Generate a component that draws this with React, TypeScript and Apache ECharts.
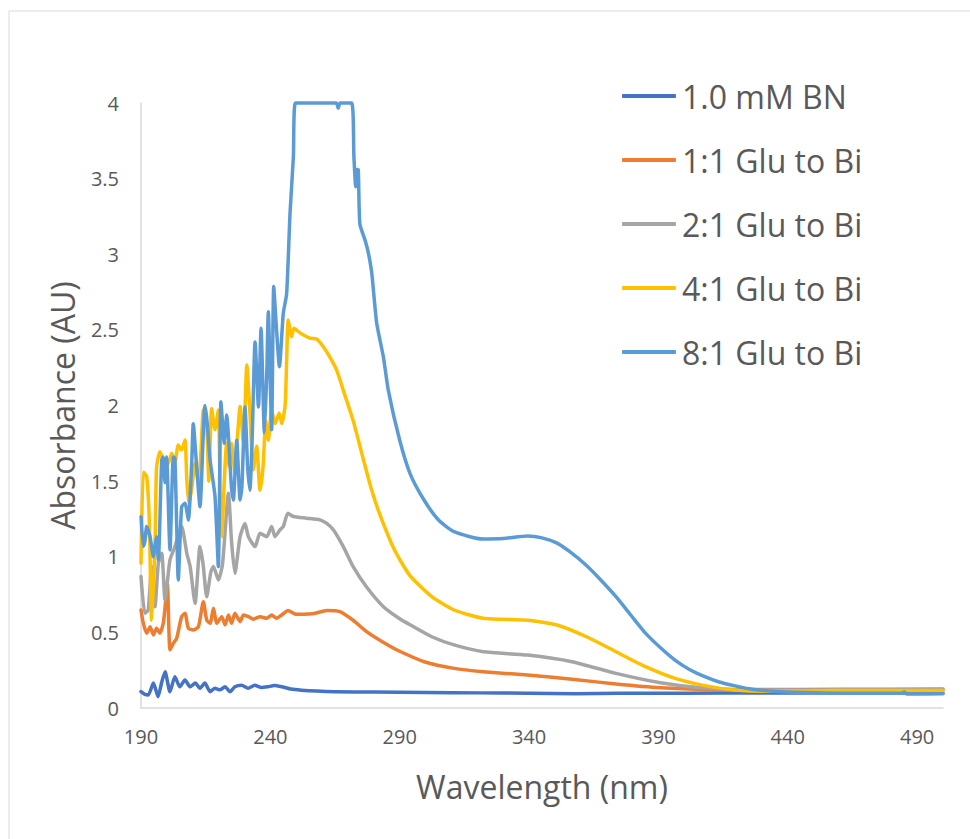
import React, { useEffect, useRef } from "react";
import * as echarts from "echarts";

const seriesNames = ["1.0 mM BN", "1:1 Glu to Bi", "2:1 Glu to Bi", "4:1 Glu to Bi", "8:1 Glu to Bi"];
const seriesColors = ["#4472C4", "#ED7D31", "#A5A5A5", "#FFC000", "#5B9BD5"];

const bn: [number, number][] = [
  [190, 0.108], [191.5, 0.09], [192.8, 0.086], [194.8, 0.165], [196.6, 0.075], [198, 0.17],
  [199.3, 0.24], [201.2, 0.108], [203.1, 0.207], [205, 0.14], [207, 0.185], [209, 0.14],
  [211, 0.165], [212.8, 0.13], [214.7, 0.165], [216.7, 0.108], [218.6, 0.13], [220.5, 0.12],
  [222.5, 0.14], [224.4, 0.108], [226.3, 0.14], [228.9, 0.15], [231.4, 0.13], [234, 0.15],
  [236.5, 0.135], [239, 0.14], [241.5, 0.148], [244.4, 0.14], [248, 0.125], [252, 0.118],
  [258, 0.112], [265, 0.108], [280, 0.105], [300, 0.103], [320, 0.1], [340, 0.098],
  [358, 0.094], [375, 0.097], [400, 0.098], [430, 0.1], [460, 0.1], [485, 0.1], [500, 0.1],
];

const glu1: [number, number][] = [
  [190, 0.648], [190.9, 0.56], [192.2, 0.494], [193.5, 0.538], [194.8, 0.483], [196, 0.527],
  [197.3, 0.494], [198.6, 0.56], [199.5, 0.7], [200.2, 0.825], [201.2, 0.384], [202.5, 0.428],
  [203.8, 0.461], [205.7, 0.604], [207, 0.626], [208.3, 0.527], [210.2, 0.516], [212.2, 0.538],
  [214.1, 0.703], [215.4, 0.582], [216.7, 0.56], [218, 0.659], [219.3, 0.56], [221.2, 0.604],
  [222.5, 0.549], [223.8, 0.615], [225, 0.56], [226.3, 0.626], [228.3, 0.571], [229.6, 0.615],
  [231.5, 0.604], [233.4, 0.587], [236, 0.604], [238.6, 0.593], [240.5, 0.615], [242.4, 0.593],
  [244.4, 0.615], [246.8, 0.645], [249.5, 0.622], [252.8, 0.62], [257, 0.625], [261.8, 0.645],
  [266.9, 0.637], [272, 0.58], [277.2, 0.505], [283.6, 0.435], [290, 0.375], [299.5, 0.306],
  [311, 0.262], [322.3, 0.24], [339.4, 0.218], [356.6, 0.19], [373.6, 0.159], [390.8, 0.134],
  [408, 0.123], [430, 0.122], [460, 0.124], [500, 0.125],
];

const glu2: [number, number][] = [
  [190, 0.869], [191.5, 0.626], [192.8, 0.648], [194.1, 0.935], [195.4, 0.67], [196.7, 0.957],
  [198, 1.023], [199.3, 0.714], [201.2, 0.979], [203.1, 1.067], [205.7, 1.2], [207.7, 1.023],
  [209, 0.935], [210.9, 0.692], [212.8, 1.067], [214, 0.95], [215.4, 0.736], [217, 0.9],
  [218, 0.935], [219.9, 0.847], [221.5, 0.95], [223.8, 1.42], [225, 1.1], [226.3, 0.89],
  [228.3, 1.133], [230.2, 1.22], [231.5, 1.133], [234.1, 1.067], [236, 1.155], [238.6, 1.133],
  [240.5, 1.2], [241.8, 1.133], [243.7, 1.177], [245, 1.2], [246.8, 1.287], [248.9, 1.266],
  [254, 1.255], [259.2, 1.244], [261.8, 1.22], [264.4, 1.177], [268.2, 1.067], [272, 0.935],
  [277.2, 0.8], [283.7, 0.67], [290, 0.59], [294, 0.55], [302.4, 0.471], [311, 0.417],
  [322.3, 0.372], [339.4, 0.35], [356.6, 0.306], [373.6, 0.229], [390.8, 0.167], [408, 0.13],
  [425, 0.118], [460, 0.12], [500, 0.12],
];

const glu4: [number, number][] = [
  [190, 0.957], [190.9, 1.56], [192.2, 1.53], [193.2, 1.24], [194.1, 0.58], [195.4, 1.067],
  [196, 1.585], [197.3, 1.695], [198.6, 1.64], [199.9, 1.596], [201.2, 1.65], [201.9, 1.684],
  [203.1, 1.62], [204.4, 1.739], [205.7, 1.706], [207, 1.772], [207.7, 1.51], [208.5, 1.35],
  [209.6, 1.45], [210.9, 1.62], [212.2, 1.486], [213.2, 1.7], [214.1, 1.97], [215.4, 1.86],
  [216.2, 1.5], [217.3, 1.98], [218.6, 1.84], [219.9, 1.97], [220.6, 1.4], [221.2, 1.133],
  [222.2, 1.5], [223.1, 1.75], [224, 1.6], [225, 1.75], [226.3, 1.55], [227.3, 1.8],
  [228.3, 1.993], [229.6, 1.75], [230.9, 2.268], [232.1, 1.95], [233.4, 1.574], [234.7, 1.73],
  [236, 1.44], [237.2, 1.6], [238.2, 1.9], [239.2, 1.77], [240.5, 1.97], [241.8, 1.88],
  [243.4, 1.95], [244.4, 1.88], [245.7, 2.0], [246.3, 2.3], [246.9, 2.565], [248.2, 2.455],
  [249.1, 2.51], [251.5, 2.48], [255.3, 2.446], [257.9, 2.44], [260.4, 2.39], [263, 2.32],
  [265.6, 2.235], [268.2, 2.1], [272, 1.9], [276, 1.64], [279, 1.45], [282.4, 1.276],
  [288, 1.045], [293.8, 0.879], [302.4, 0.736], [311, 0.648], [322.3, 0.593], [339.4, 0.58],
  [350.8, 0.549], [362.2, 0.471], [373.6, 0.372], [385, 0.273], [396.4, 0.196], [407.9, 0.148],
  [419.3, 0.119], [430.7, 0.11], [460, 0.115], [500, 0.115],
];

const glu8: [number, number][] = [
  [190, 1.265], [190.9, 1.067], [191.5, 1.1], [192.2, 1.2], [193.5, 1.133], [194.8, 1.0],
  [195.4, 1.067], [196, 1.133], [196.7, 0.979], [198, 1.64], [198.6, 1.66], [199.3, 1.49],
  [199.9, 1.66], [201.2, 1.045], [202.5, 1.66], [203.1, 1.65], [203.8, 1.2], [204.4, 0.847],
  [205.7, 1.33], [207, 1.354], [208.3, 1.243], [209.6, 1.618], [210.2, 1.88], [211.5, 1.6],
  [212.8, 1.33], [214.7, 2.0], [215.5, 1.9], [216.7, 1.64], [218.6, 1.4], [219.9, 0.935],
  [220.9, 2.025], [222.2, 1.75], [223.1, 1.937], [225, 1.45], [225.7, 1.375], [227, 1.77],
  [228.3, 1.375], [229, 1.46], [230.2, 1.99], [231.2, 1.6], [232.1, 1.44], [233, 1.8],
  [234.1, 2.42], [235.4, 1.99], [236.4, 2.51], [237.7, 1.82], [238.6, 2.2], [239.2, 2.62],
  [240.5, 1.84], [241.3, 2.786], [242.4, 2.5], [243.5, 2.257], [245, 2.61], [246.3, 2.74],
  [247.6, 3.27], [248.9, 3.645], [249.7, 4.0], [255, 4.0], [260, 4.0], [265.5, 4.0],
  [266.2, 3.965], [267, 4.0], [271.4, 4.0], [272.3, 3.645], [273, 3.447], [273.5, 3.56],
  [274, 3.557], [274.6, 3.2], [276.6, 3.094], [277.9, 3.007], [279.2, 2.875], [281.1, 2.545],
  [283.7, 2.32], [285.6, 2.1], [290, 1.77], [294, 1.55], [299.4, 1.375], [305, 1.243],
  [311, 1.166], [322, 1.117], [330, 1.12], [339.4, 1.137], [345, 1.125], [350.8, 1.09],
  [356, 1.03], [362, 0.945], [367.8, 0.845], [373.6, 0.736], [379.3, 0.615], [385, 0.495],
  [390.7, 0.4], [396.4, 0.317], [402, 0.255], [407.9, 0.207], [413.5, 0.172], [419.2, 0.148],
  [425, 0.127], [430.7, 0.115], [440, 0.105], [453.5, 0.1], [470, 0.097], [484, 0.097],
  [485, 0.105], [486, 0.092], [500, 0.095],
];

const allData = [bn, glu1, glu2, glu4, glu8];

const xMin = 190;
const xMax = 500;
const xStep = 50;
const yMin = 0;
const yMax = 4;
const yStep = 0.5;

const FONT = "'Open Sans', 'Noto Sans', sans-serif";
const TEXT = "#595959";

export default function App() {
  const ref = useRef<HTMLDivElement>(null);
  useEffect(() => {
    if (!ref.current) return;
    const chart = echarts.init(ref.current, undefined, { renderer: "svg" });
    chart.setOption({
      animation: false,
      backgroundColor: "#ffffff",
      textStyle: { fontFamily: FONT },
      grid: { left: 141, right: 27, top: 103, bottom: 131, containLabel: false },
      graphic: [
        {
          type: "rect",
          shape: { x: 9, y: 11, width: 1000, height: 900 },
          style: { fill: "none", stroke: "#d9d9d9", lineWidth: 1 },
          silent: true,
          z: -1,
        },
      ],
      legend: {
        orient: "vertical",
        left: 622,
        top: 76,
        padding: 0,
        itemWidth: 54,
        itemHeight: 4,
        itemGap: 24,
        icon: "roundRect",
        textStyle: { fontFamily: FONT, fontSize: 32, color: TEXT, lineHeight: 40, padding: [0, 0, 0, 1] },
        data: seriesNames,
      },
      xAxis: {
        type: "value",
        min: xMin,
        max: xMax,
        interval: xStep,
        name: "Wavelength (nm)",
        nameLocation: "middle",
        nameGap: 62,
        nameMoveOverlap: false,
        nameTextStyle: { fontFamily: FONT, fontSize: 32, color: TEXT },
        axisLine: { show: true, lineStyle: { color: "#d9d9d9", width: 1.5 } },
        axisTick: { show: false },
        splitLine: { show: false },
        axisLabel: { showMaxLabel: false, fontFamily: FONT, fontSize: 20, color: TEXT, margin: 18 },
      },
      yAxis: {
        type: "value",
        min: yMin,
        max: yMax,
        interval: yStep,
        name: "Absorbance (AU)",
        nameLocation: "middle",
        nameRotate: 90,
        nameGap: 63,
        nameMoveOverlap: false,
        nameTextStyle: { fontFamily: FONT, fontSize: 32, color: TEXT },
        axisLine: { show: true, lineStyle: { color: "#d9d9d9", width: 1.5 } },
        axisTick: { show: false },
        splitLine: { show: false },
        axisLabel: { fontFamily: FONT, fontSize: 20, color: TEXT, margin: 22 },
      },
      series: allData.map((d, i) => ({
        name: seriesNames[i],
        type: "line",
        data: d,
        showSymbol: false,
        symbol: "none",
        smooth: 0.2,
        clip: false,
        color: seriesColors[i],
        lineStyle: { width: 3.5, color: seriesColors[i], cap: "round", join: "round" },
      })),
    });
    return () => chart.dispose();
  }, []);
  return (
    <div
      ref={ref}
      style={{ position: "fixed", left: 0, top: 0, width: 970, height: 839, background: "#fff" }}
    />
  );
}
